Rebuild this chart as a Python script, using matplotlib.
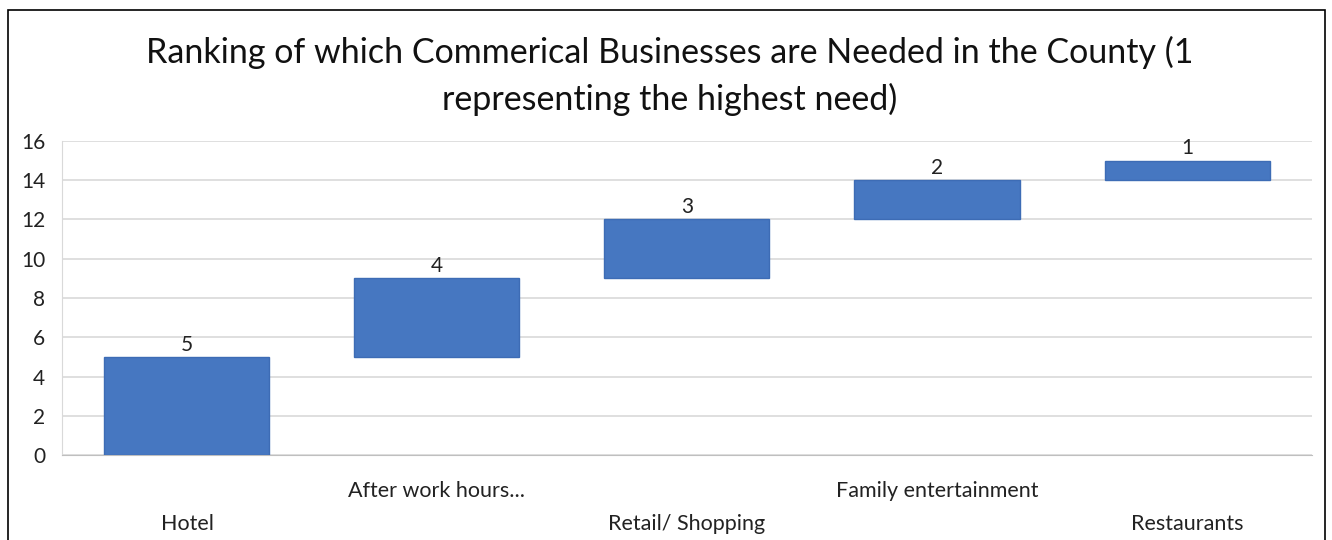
import matplotlib
matplotlib.use("Agg")
import matplotlib.pyplot as plt
from matplotlib.patches import Rectangle

# ranking data (floating bars, waterfall style)
categories = ["Hotel", "After work hours...", "Retail/ Shopping",
              "Family entertainment", "Restaurants"]
bar_bottom = [0, 5, 9, 12, 14]
bar_top = [5, 9, 12, 14, 15]
rank_labels = ["5", "4", "3", "2", "1"]
y_ticks = [0, 2, 4, 6, 8, 10, 12, 14, 16]

plt.rcParams['font.family'] = ['Lato', 'DejaVu Sans']

fig = plt.figure(figsize=(13.32, 5.4), dpi=100)
ax = fig.add_axes([0.0465, 0.1574, 0.9385, 0.5815])

x = list(range(len(categories)))
heights = [t - b for t, b in zip(bar_top, bar_bottom)]
ax.bar(x, heights, bottom=bar_bottom, width=0.66, color="#4677c1",
       edgecolor="#3d6cb5", linewidth=1, zorder=3)

for xi, top, lab in zip(x, bar_top, rank_labels):
    ax.text(xi, top + 0.12, lab, ha="center", va="bottom", fontsize=15,
            color="#222222", zorder=4)

ax.set_xlim(-0.5, 4.5)
ax.set_ylim(0, 16)
ax.set_yticks(y_ticks)
ax.tick_params(axis="y", labelsize=15, length=0, pad=12, colors="#222222")
ax.grid(axis="y", color="#d9d9d9", linewidth=1.2, zorder=0)
ax.set_axisbelow(True)

ax.set_xticks(x)
ax.set_xticklabels([])
ax.tick_params(axis="x", length=0)
for xi, cat in zip(x, categories):
    ypos = -0.22 if xi % 2 == 0 else -0.115
    ax.text(xi, ypos, cat, transform=ax.get_xaxis_transform(), ha="center",
            va="center", fontsize=15.5, color="#222222")

for side in ["top", "right"]:
    ax.spines[side].set_visible(False)
ax.spines["left"].set_color("#d9d9d9")
ax.spines["bottom"].set_color("#bfbfbf")

fig.text(0.503, 0.903, "Ranking of which Commerical Businesses are Needed in the County (1",
         ha="center", va="center", fontsize=24.5, color="#111111")
fig.text(0.503, 0.815, "representing the highest need)",
         ha="center", va="center", fontsize=24.5, color="#111111")

# outer border of the chart
fig.patches.append(Rectangle((8 / 1332, -0.01), 1317 / 1332, 1 - 10 / 540 + 0.01,
                             transform=fig.transFigure, fill=False,
                             edgecolor="black", linewidth=1.2))

fig.savefig("out.png", dpi=100)
